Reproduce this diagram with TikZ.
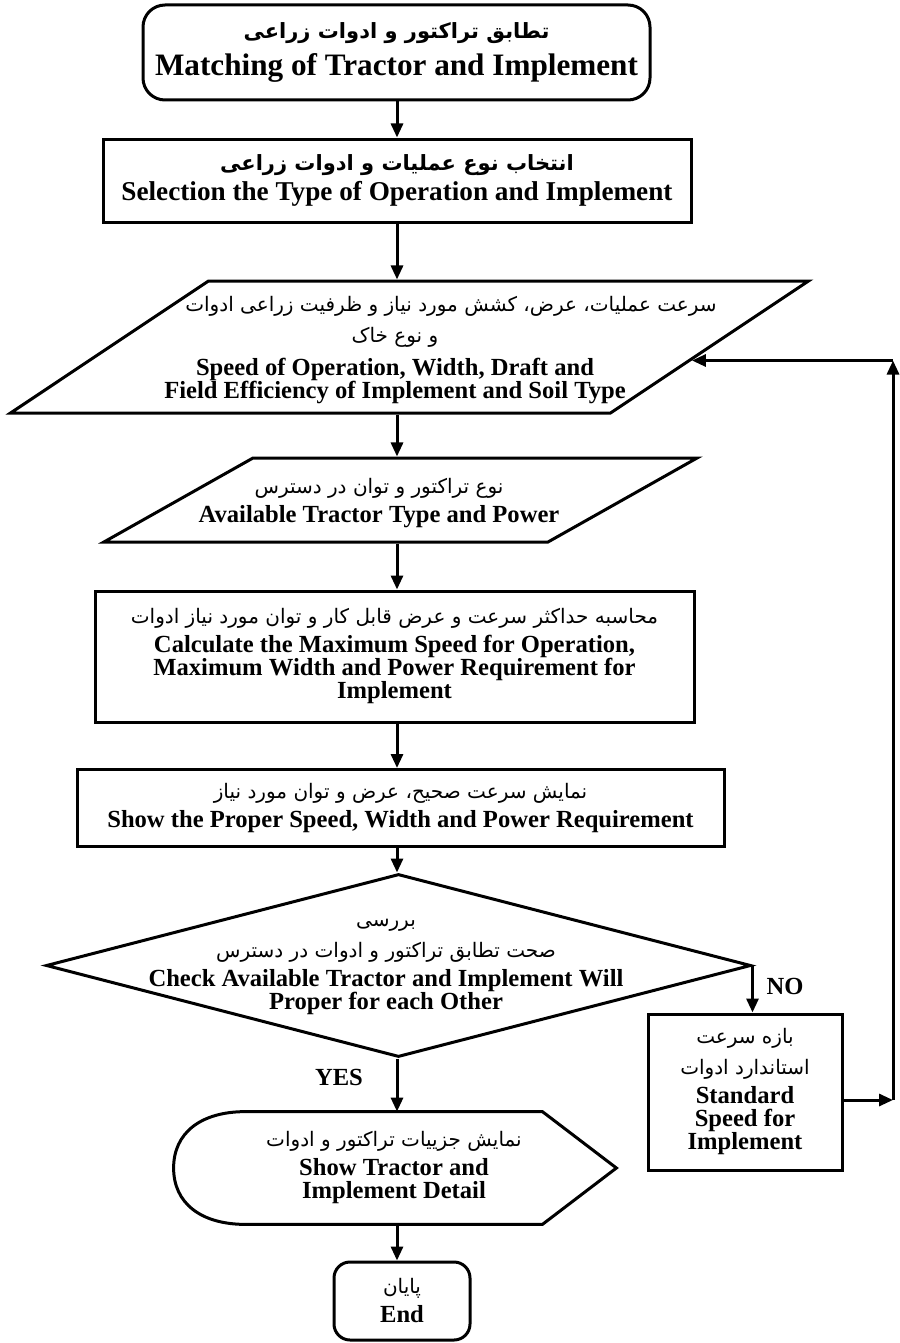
\documentclass[tikz,border=0pt]{standalone}
\usepackage{fontspec}
\setmainfont{Liberation Serif}
\newfontfamily\fa[Script=Arabic]{DejaVu Sans}
\TeXXeTstate=1
\usetikzlibrary{shapes.geometric,arrows.meta,calc}
% persian lines, right to left
\newcommand{\fatxt}[1]{{\fa\mdseries\fontsize{10}{12}\selectfont\beginR #1\endR}}
\newcommand{\fabf}[1]{{\fa\bfseries\fontsize{10.5}{12}\selectfont\beginR #1\endR}}
% empty body of given width and height
\newcommand{\iobody}[2]{\rule{0pt}{#2}\rule{#1}{0pt}}
\begin{document}
\begin{tikzpicture}[x=0.5pt, y=-0.5pt, >={Triangle[length=7pt,width=6pt]},
  frame/.style={draw, line width=1.5pt},
  txt/.style={align=center, font=\fontsize{12.3}{11.5}\selectfont\bfseries, inner sep=0pt},
  startstop/.style={frame, txt, rounded corners=11pt},
  process/.style={frame, txt},
  io/.style={frame, trapezium, inner sep=0pt},
  decision/.style={frame, diamond, inner sep=0pt},
  link/.style={line width=1.5pt, ->}]
\useasboundingbox (0,0) rectangle (899,1343);
\coordinate (col) at (397,0);

\node[startstop, minimum width=253.5pt, minimum height=47.5pt] (start) at (396.5,52.5)
  {\fabf{تطابق تراکتور و ادوات زراعی}\\[4pt] {\fontsize{15.6}{16}\selectfont Matching of Tractor and Implement}};
\node[process, minimum width=294pt, minimum height=41.5pt] (select) at (397,180.5)
  {\fabf{انتخاب نوع عملیات و ادوات زراعی}\\[2pt] {\fontsize{13.6}{14}\selectfont Selection the Type of Operation and Implement}};

% input shapes, text set apart
\node[io, trapezium left angle=33.7, trapezium right angle=146.3] (spec) at (409.5,347) {\iobody{201pt}{66pt}};
\node[txt] (spectxt) at (395,350) {\hspace*{56pt}\fatxt{سرعت عملیات، عرض، کشش مورد نیاز و ظرفیت زراعی ادوات}\\[4pt]
  \fatxt{و نوع خاک}\\[5pt] Speed of Operation, Width, Draft and\\ Field Efficiency of Implement and Soil Type};
\node[io, trapezium left angle=29.4, trapezium right angle=150.6] (avail) at (400.5,500) {\iobody{147.5pt}{42pt}};
\node[txt] (availtxt) at (379,503) {\fatxt{نوع تراکتور و توان در دسترس}\\[3pt] Available Tractor Type and Power};

\node[process, minimum width=299.5pt, minimum height=65.5pt] (calc) at (394.5,656.5)
  {\fatxt{محاسبه حداکثر سرعت و عرض قابل کار و توان مورد نیاز ادوات}\\[3pt] Calculate the Maximum Speed for Operation,\\
  Maximum Width and Power Requirement for\\ Implement};
\node[process, minimum width=323.5pt, minimum height=38.5pt] (show) at (400.5,808)
  {\fatxt{نمایش سرعت صحیح، عرض و توان مورد نیاز}\\[3pt] Show the Proper Speed, Width and Power Requirement};

\node[decision, minimum width=352.5pt, minimum height=91.5pt] (check) at (398.5,965.5) {};
\node[txt] (checktxt) at (386,967) {\fatxt{بررسی}\\[4pt] \fatxt{صحت تطابق تراکتور و ادوات در دسترس}\\[3pt]
  Check Available Tractor and Implement Will\\ Proper for each Other};
\node[txt] (nolbl) at (785,986) {NO};
\node[txt] (yeslbl) at (339,1077) {YES};

\node[process, minimum width=97pt, minimum height=78pt] (nobox) at (745,1092)
  {\fatxt{بازه سرعت}\\[4pt] \fatxt{استاندارد ادوات}\\[3pt] Standard\\ Speed for\\ Implement};

% display shape
\node[txt, minimum width=148pt, minimum height=56pt] (disp) at (394,1168)
  {\fatxt{نمایش جزییات تراکتور و ادوات}\\[3pt] Show Tractor and\\ Implement Detail};
\draw[frame] (disp.north west) -- (disp.north east) -- ($(disp.east)+(74,0)$) -- (disp.south east) -- (disp.south west)
  .. controls +(-45,0) and +(0,35) .. ($(disp.west)+(-72,0)$) .. controls +(0,-35) and +(-45,0) .. (disp.north west) -- cycle;

\node[startstop, rounded corners=8pt, minimum width=68pt, minimum height=39pt] (finish) at (402,1301)
  {\fatxt{پایان}\\[3pt] End};

\foreach \a/\b in {start/select, select/spec, spec/avail, avail/calc, calc/show, show/check, check/disp, disp/finish}
  \draw[link] (col |- \a.south) -- (col |- \b.north);
\draw[link] (check.east) -- (check.east |- nobox.north);

% back to the input
\coordinate (fbin) at ($(spec.top right corner)!0.6!(spec.bottom right corner)$);
\coordinate (fbcorner) at (893,1100);
\draw[link] (nobox.east |- fbcorner) -- (fbcorner);
\draw[link] (fbcorner) -- (fbcorner |- fbin);
\draw[link] (fbcorner |- fbin) -- (fbin);
\end{tikzpicture}
\end{document}
